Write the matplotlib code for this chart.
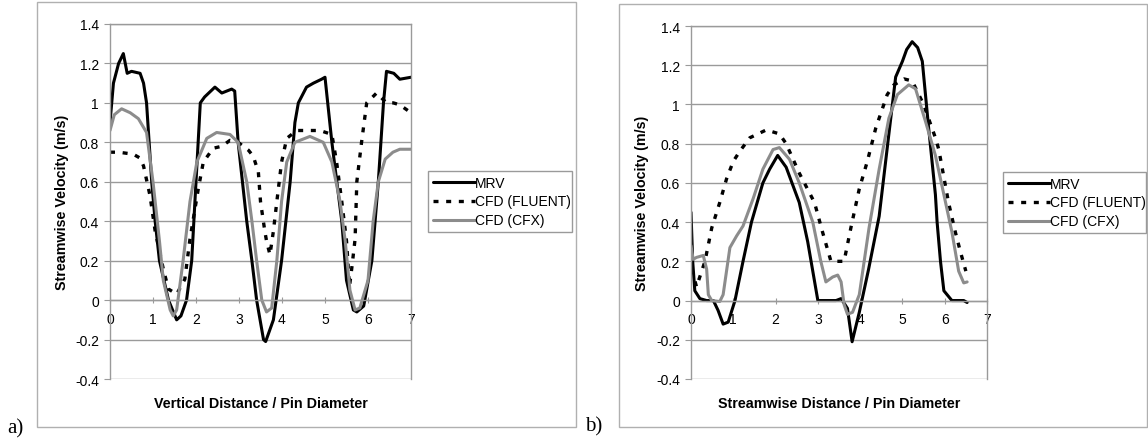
import matplotlib
matplotlib.use("Agg")
import matplotlib.pyplot as plt
from matplotlib.patches import Rectangle

plt.rcParams['font.family'] = ['Liberation Sans', 'DejaVu Sans']

# ---------------- Panel a data ----------------
a_mrv_x = [0.0, 0.08, 0.2, 0.31, 0.4, 0.5, 0.7, 0.78, 0.85, 0.97, 1.05, 1.15, 1.36, 1.55, 1.65,
           1.78, 1.9, 2.0, 2.1, 2.2, 2.44, 2.6, 2.83, 2.9, 2.98, 3.18, 3.3, 3.41, 3.57, 3.62,
           3.8, 3.99, 4.19, 4.3, 4.38, 4.57, 4.73, 4.92, 5.0, 5.16, 5.39, 5.5, 5.66, 5.74,
           5.9, 6.09, 6.24, 6.36, 6.43, 6.6, 6.74, 7.0]
a_mrv_y = [0.9, 1.1, 1.2, 1.25, 1.15, 1.16, 1.15, 1.1, 1.0, 0.6, 0.4, 0.2, 0.0, -0.1, -0.08,
           0.0, 0.2, 0.6, 1.0, 1.03, 1.08, 1.05, 1.07, 1.06, 0.8, 0.4, 0.2, 0.0, -0.2, -0.21,
           -0.1, 0.2, 0.6, 0.9, 1.0, 1.08, 1.1, 1.12, 1.13, 0.8, 0.4, 0.1, -0.05, -0.06,
           -0.03, 0.2, 0.6, 1.0, 1.16, 1.15, 1.12, 1.13]

a_flu_x = [0.0, 0.2, 0.54, 0.7, 0.78, 0.93, 1.05, 1.24, 1.36, 1.55, 1.74, 1.86, 2.05, 2.17,
           2.4, 2.6, 2.79, 2.98, 3.22, 3.33, 3.45, 3.5, 3.6, 3.64, 3.72, 3.8, 3.88, 3.99,
           4.11, 4.34, 4.88, 5.16, 5.27, 5.39, 5.5, 5.57, 5.62, 5.7, 5.74, 5.85, 5.97, 6.2,
           6.43, 6.59, 6.74, 7.0]
a_flu_y = [0.75, 0.75, 0.74, 0.72, 0.68, 0.53, 0.35, 0.157, 0.056, 0.03, 0.106, 0.31, 0.56, 0.7,
           0.77, 0.78, 0.81, 0.8, 0.76, 0.73, 0.65, 0.5, 0.35, 0.3, 0.23, 0.35, 0.5, 0.7,
           0.82, 0.86, 0.86, 0.84, 0.7, 0.5, 0.3, 0.07, 0.157, 0.31, 0.6, 0.8, 1.0, 1.05,
           1.0, 1.0, 0.99, 0.95]

a_cfx_x = [0.0, 0.1, 0.27, 0.47, 0.66, 0.85, 1.0, 1.15, 1.24, 1.4, 1.47, 1.55, 1.7, 1.86,
           2.02, 2.25, 2.48, 2.79, 2.98, 3.18, 3.3, 3.41, 3.53, 3.64, 3.76, 3.88, 3.99, 4.11,
           4.3, 4.65, 4.96, 5.16, 5.35, 5.47, 5.58, 5.7, 5.81, 6.0, 6.12, 6.24, 6.4, 6.58,
           6.74, 7.0]
a_cfx_y = [0.86, 0.94, 0.97, 0.95, 0.92, 0.85, 0.6, 0.3, 0.1, -0.05, -0.08, -0.05, 0.2, 0.5,
           0.7, 0.82, 0.85, 0.84, 0.8, 0.6, 0.4, 0.2, 0.0, -0.06, -0.04, 0.2, 0.5, 0.7,
           0.8, 0.83, 0.8, 0.7, 0.5, 0.3, 0.05, -0.05, -0.04, 0.1, 0.4, 0.6, 0.715, 0.75,
           0.765, 0.765]

# ---------------- Panel b data ----------------
b_mrv_x = [0.0, 0.04, 0.09, 0.21, 0.37, 0.53, 0.64, 0.76, 0.88, 1.04, 1.23, 1.43, 1.7, 1.86,
           2.05, 2.25, 2.56, 2.76, 2.92, 3.0, 3.43, 3.55, 3.7, 3.81, 3.98, 4.2, 4.45, 4.68,
           4.84, 5.0, 5.1, 5.23, 5.36, 5.47, 5.62, 5.78, 5.82, 5.9, 5.98, 6.17, 6.45, 6.53]
b_mrv_y = [0.45, 0.2, 0.05, 0.01, 0.0, 0.0, -0.05, -0.12, -0.11, 0.0, 0.2, 0.4, 0.6, 0.67,
           0.74, 0.68, 0.5, 0.3, 0.1, 0.0, 0.0, 0.01, -0.04, -0.21, -0.06, 0.16, 0.43, 0.85,
           1.14, 1.22, 1.28, 1.32, 1.29, 1.22, 0.88, 0.54, 0.4, 0.2, 0.05, 0.0, 0.0, -0.01]

b_flu_x = [0.02, 0.13, 0.33, 0.49, 0.68, 0.84, 1.0, 1.15, 1.39, 1.78, 2.09, 2.25, 2.56, 2.92,
           3.11, 3.31, 3.43, 3.62, 3.78, 3.98, 4.17, 4.37, 4.64, 4.8, 5.04, 5.23, 5.5, 5.78,
           5.86, 6.09, 6.25, 6.37, 6.5]
b_flu_y = [0.16, 0.07, 0.2, 0.37, 0.5, 0.62, 0.71, 0.76, 0.83, 0.87, 0.85, 0.8, 0.65, 0.5,
           0.35, 0.2, 0.2, 0.2, 0.37, 0.57, 0.71, 0.88, 1.05, 1.1, 1.13, 1.12, 1.0, 0.83,
           0.77, 0.5, 0.35, 0.25, 0.15]

b_cfx_x = [0.0, 0.05, 0.13, 0.29, 0.37, 0.41, 0.49, 0.68, 0.76, 0.92, 1.08, 1.23, 1.47, 1.7,
           1.94, 2.09, 2.33, 2.56, 2.88, 3.07, 3.19, 3.35, 3.47, 3.55, 3.62, 3.7, 3.82, 3.98,
           4.21, 4.45, 4.68, 4.88, 5.15, 5.31, 5.55, 5.78, 6.17, 6.33, 6.45, 6.53]
b_cfx_y = [0.28, 0.21, 0.22, 0.23, 0.16, 0.03, 0.0, -0.005, 0.03, 0.27, 0.33, 0.38, 0.52, 0.67,
           0.77, 0.78, 0.72, 0.6, 0.4, 0.2, 0.095, 0.12, 0.13, 0.095, -0.02, -0.07, -0.06, 0.03,
           0.37, 0.67, 0.93, 1.05, 1.1, 1.08, 0.91, 0.74, 0.35, 0.15, 0.09, 0.095]

series_labels = ["MRV", "CFD (FLUENT)", "CFD (CFX)"]
y_ticks = [-0.4, -0.2, 0, 0.2, 0.4, 0.6, 0.8, 1, 1.2, 1.4]
y_tick_labels = ["-0.4", "-0.2", "0", "0.2", "0.4", "0.6", "0.8", "1", "1.2", "1.4"]
x_ticks = [0, 1, 2, 3, 4, 5, 6, 7]

W, H = 1148, 439
fig = plt.figure(figsize=(W / 100, H / 100), dpi=100)
fig.patch.set_facecolor('white')

GRAY = '#9a9a9a'
FS = 10


def px_rect(x0, y0, x1, y1):
    return [x0 / W, 1 - y1 / H, (x1 - x0) / W, (y1 - y0) / H]


# outer chart frames
for (x0, y0, x1, y1) in [(37, 3, 576, 428), (619, 5, 1147, 428)]:
    r = px_rect(x0, y0, x1, y1)
    fig.patches.append(Rectangle((r[0], r[1]), r[2], r[3], transform=fig.transFigure,
                                 fill=False, edgecolor='#b0b0b0', linewidth=1.0))


def make_panel(rect, data, xlabel, ylabel_x, legend_rect):
    ax = fig.add_axes(px_rect(*rect))
    (mx, my), (fx, fy), (cx, cy) = data
    l1, = ax.plot(mx, my, color='black', lw=2.2, solid_joinstyle='round', solid_capstyle='round')
    l2, = ax.plot(fx, fy, color='black', lw=2.4, linestyle=(0, (1.5, 2.3)))
    l3, = ax.plot(cx, cy, color='#8c8c8c', lw=2.2, solid_joinstyle='round', solid_capstyle='round')
    ax.set_xlim(0, 7)
    ax.set_ylim(-0.4, 1.4)
    ax.set_yticks(y_ticks)
    ax.set_yticklabels(y_tick_labels)
    ax.set_xticks(x_ticks)
    ax.set_xticklabels([str(t) for t in x_ticks])
    ax.yaxis.grid(True, color=GRAY, lw=1.0)
    ax.set_axisbelow(True)
    for s in ['left', 'right', 'top']:
        ax.spines[s].set_color(GRAY)
        ax.spines[s].set_linewidth(1.0)
    ax.spines['bottom'].set_position(('data', 0))
    ax.spines['bottom'].set_color(GRAY)
    ax.spines['bottom'].set_linewidth(1.0)
    ax.tick_params(axis='x', direction='inout', length=5, color=GRAY, labelsize=FS, pad=6)
    ax.tick_params(axis='y', direction='out', length=4, color=GRAY, labelsize=FS, pad=4)
    ax.set_xlabel(xlabel, fontsize=10.3, fontweight='bold')
    ax.xaxis.set_label_coords(0.5, -0.048)
    ax.set_ylabel("Streamwise Velocity (m/s)", fontsize=10.3, fontweight='bold')
    ax.yaxis.set_label_coords((ylabel_x - rect[0]) / (rect[2] - rect[0]), 0.5)
    lr = px_rect(*legend_rect)
    leg = fig.legend([l1, l2, l3], series_labels, loc='center',
                     bbox_to_anchor=(lr[0], lr[1], lr[2], lr[3]),
                     bbox_transform=fig.transFigure, mode='expand',
                     fontsize=FS, frameon=True, fancybox=False, framealpha=1,
                     edgecolor=GRAY, borderpad=0.35, handlelength=3.0,
                     handletextpad=0.0, labelspacing=0.35, borderaxespad=0)
    leg.get_frame().set_linewidth(1.0)
    return ax


make_panel((110, 25, 411, 380),
           [(a_mrv_x, a_mrv_y), (a_flu_x, a_flu_y), (a_cfx_x, a_cfx_y)],
           "Vertical Distance / Pin Diameter", 69, (428, 169, 572, 236))
make_panel((691, 27, 987, 380),
           [(b_mrv_x, b_mrv_y), (b_flu_x, b_flu_y), (b_cfx_x, b_cfx_y)],
           "Streamwise Distance / Pin Diameter", 649, (1003, 171, 1146, 236))

fig.text(7 / W, 1 - 429 / H, "a)", fontsize=15, family=['Liberation Serif', 'DejaVu Serif'],
         va='center', ha='left')
fig.text(585 / W, 1 - 427 / H, "b)", fontsize=15, family=['Liberation Serif', 'DejaVu Serif'],
         va='center', ha='left')

fig.savefig("out.png", dpi=100, facecolor='white')
